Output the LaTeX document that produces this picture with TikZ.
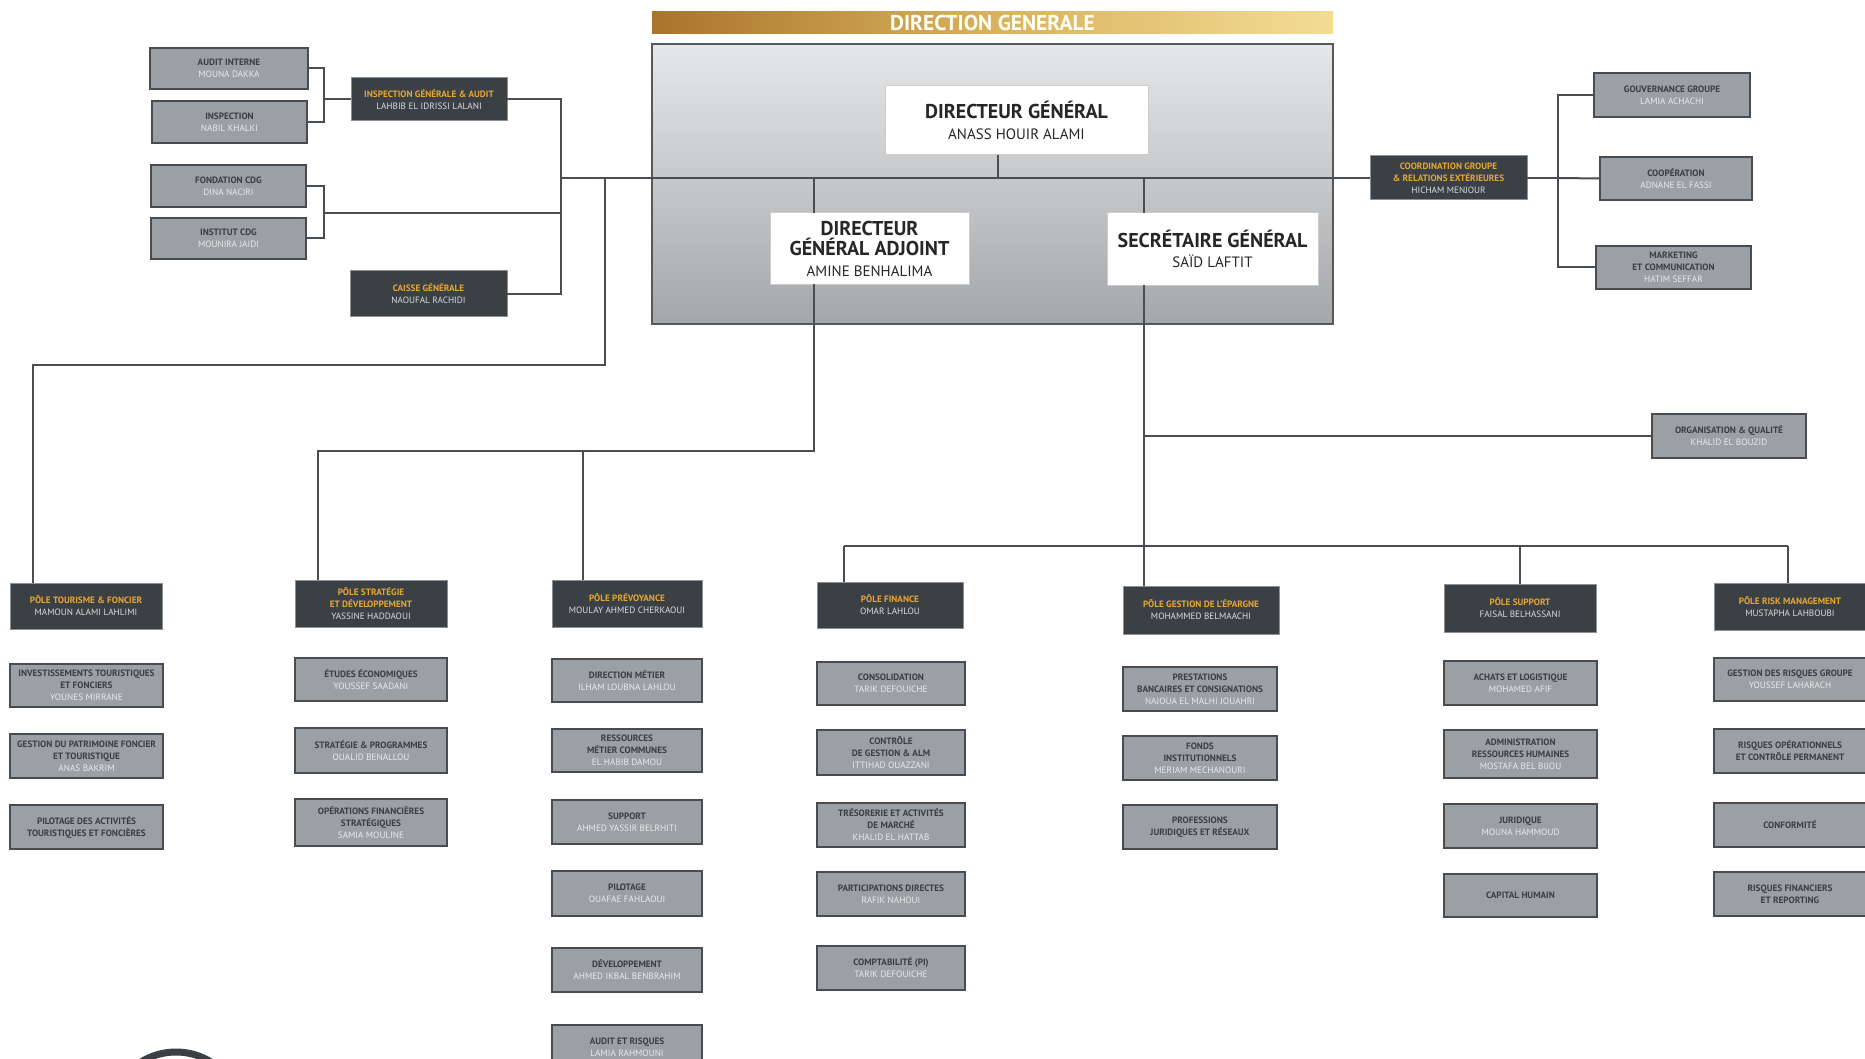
\documentclass[tikz,border=0pt]{standalone}
\usepackage{fontspec}
\setmainfont{PT Sans}
\usetikzlibrary{calc}
\definecolor{lfill}{HTML}{9BA0A5}
\definecolor{bord}{HTML}{484C50}
\definecolor{ltitle}{HTML}{3A3E42}
\definecolor{lname}{HTML}{E9EBED}
\definecolor{dfill}{HTML}{3A4043}
\definecolor{dedge}{HTML}{8C9194}
\definecolor{gold}{HTML}{E8A735}
\definecolor{dname}{HTML}{D9DDE0}
\definecolor{linec}{HTML}{4A4E52}
\definecolor{bangold1}{HTML}{A9742B}
\definecolor{bangold2}{HTML}{D8B25E}
\definecolor{bangold3}{HTML}{F4DC95}
\definecolor{frtop}{HTML}{E6E7E8}
\definecolor{frbot}{HTML}{A4A7AA}
\definecolor{frbord}{HTML}{55595C}
\newcommand{\nmL}[1]{{\mdseries\color{lname}#1}}
\newcommand{\nmD}[1]{{\mdseries\color{dname}#1}}
\newcommand{\nmW}[1]{{\fontsize{15}{20}\selectfont\mdseries #1}}
\newcommand{\bx}[7]{\node[#1, minimum width={(#5)-(#3)}, minimum height={(#6)-(#4)}] (#2) at ({((#3)+(#5))/2},{((#4)+(#6))/2}) {#7};}
\begin{document}
\begin{tikzpicture}[x=1pt,y=-1pt,
  lbox/.style={draw=bord, line width=2pt, fill=lfill, text=ltitle, font=\fontsize{9.2}{12}\selectfont\bfseries, align=center, inner sep=0pt, outer sep=0pt},
  dbox/.style={draw=dedge, line width=1pt, fill=dfill, text=gold, font=\fontsize{9.2}{12}\selectfont\bfseries, align=center, inner sep=0pt, outer sep=0pt},
  wbox/.style={draw=black!20, line width=1pt, fill=white, text=black!85, align=center, inner sep=0pt, outer sep=0pt, font=\fontsize{20}{20.5}\selectfont\bfseries},
  conn/.style={draw=linec, line width=2pt},
  thin/.style={draw=linec, line width=1.5pt}]
\useasboundingbox (0,0) rectangle (1865,1059);
\clip (0,0) rectangle (1865,1059);
\fill[white] (0,0) rectangle (1865,1059);

% ---------- Direction generale ----------
\node[minimum width=681, minimum height=22, inner sep=0pt, left color=bangold1, right color=bangold3, middle color=bangold2, text=white!95!yellow, font=\fontsize{21.5}{22}\selectfont\bfseries] (banner) at (992.5,23) {DIRECTION GENERALE};
\node[minimum width=681, minimum height=280, inner sep=0pt, top color=frtop, bottom color=frbot, draw=frbord, line width=2.5pt] (frame) at (992.5,184) {};

\bx{wbox}{dg}{885}{86}{1148}{155}{DIRECTEUR GÉNÉRAL\\\nmW{ANASS HOUIR ALAMI}}
\bx{wbox}{dga}{770}{213}{969}{284}{DIRECTEUR\\GÉNÉRAL ADJOINT\\\nmW{AMINE BENHALIMA}}
\bx{wbox}{sg}{1107}{213}{1318}{285}{SECRÉTAIRE GÉNÉRAL\\\nmW{SAÏD LAFTIT}}

% ---------- left side ----------
\bx{lbox}{ai}{150}{48}{308}{89}{AUDIT INTERNE\\\nmL{MOUNA DAKKA}}
\bx{lbox}{insp}{152}{101}{307}{143}{INSPECTION\\\nmL{NABIL KHALKI}}
\bx{dbox}{iga}{351}{78}{507}{121}{INSPECTION GÉNÉRALE \& AUDIT\\\nmD{LAHBIB EL IDRISSI LALANI}}
\bx{lbox}{fcdg}{151}{165}{306}{207}{FONDATION CDG\\\nmL{DINA NACIRI}}
\bx{lbox}{icdg}{151}{218}{306}{259}{INSTITUT CDG\\\nmL{MOUNIRA JAIDI}}
\bx{dbox}{caisse}{350}{271}{507}{316}{CAISSE GÉNÉRALE\\\nmD{NAOUFAL RACHIDI}}

% ---------- right side ----------
\bx{dbox}{coord}{1370}{156}{1527}{200}{COORDINATION GROUPE\\\& RELATIONS EXTÉRIEURES\\\nmD{HICHAM MENJOUR}}
\bx{lbox}{gouv}{1594}{73}{1750}{117}{GOUVERNANCE GROUPE\\\nmL{LAMIA ACHACHI}}
\bx{lbox}{coop}{1600}{157}{1752}{200}{COOPÉRATION\\\nmL{ADNANE EL FASSI}}
\bx{lbox}{mkt}{1596}{246}{1751}{289}{MARKETING\\ET COMMUNICATION\\\nmL{HATIM SEFFAR}}
\bx{lbox}{org}{1652}{414}{1806}{458}{ORGANISATION \& QUALITÉ\\\nmL{KHALID EL BOUZID}}

% ---------- poles ----------
\bx{dbox}{tour}{10}{583}{162}{629}{PÔLE TOURISME \& FONCIER\\\nmD{MAMOUN ALAMI LAHLIMI}}
\bx{dbox}{strat}{295}{580}{447}{627}{PÔLE STRATÉGIE\\ET DÉVELOPPEMENT\\\nmD{YASSINE HADDAOUI}}
\bx{dbox}{prev}{552}{580}{702}{627}{PÔLE PRÉVOYANCE\\\nmD{MOULAY AHMED CHERKAOUI}}
\bx{dbox}{fin}{817}{582}{963}{628}{PÔLE FINANCE\\\nmD{OMAR LAHLOU}}
\bx{dbox}{epar}{1123}{586}{1279}{634}{PÔLE GESTION DE L'ÉPARGNE\\\nmD{MOHAMMED BELMAACHI}}
\bx{dbox}{supp}{1444}{584}{1596}{632}{PÔLE SUPPORT\\\nmD{FAISAL BELHASSANI}}
\bx{dbox}{risk}{1714}{583}{1866}{630}{PÔLE RISK MANAGEMENT\\\nmD{MUSTAPHA LAHBOUBI}}

% column 1
\bx{lbox}{c1a}{10}{664}{163}{707}{INVESTISSEMENTS TOURISTIQUES\\ET FONCIERS\\\nmL{YOUNES MIRRANE}}
\bx{lbox}{c1b}{10}{734}{163}{778}{GESTION DU PATRIMOINE FONCIER\\ET TOURISTIQUE\\\nmL{ANAS BAKRIM}}
\bx{lbox}{c1c}{10}{805}{163}{849}{PILOTAGE DES ACTIVITÉS\\TOURISTIQUES ET FONCIÈRES}
% column 2
\bx{lbox}{c2a}{295}{658}{447}{701}{ÉTUDES ÉCONOMIQUES\\\nmL{YOUSSEF SAADANI}}
\bx{lbox}{c2b}{295}{728}{447}{773}{STRATÉGIE \& PROGRAMMES\\\nmL{OUALID BENALLOU}}
\bx{lbox}{c2c}{295}{799}{447}{846}{OPÉRATIONS FINANCIÈRES\\STRATÉGIQUES\\\nmL{SAMIA MOULINE}}
% column 3
\bx{lbox}{c3a}{552}{659}{702}{702}{DIRECTION MÉTIER\\\nmL{ILHAM LOUBNA LAHLOU}}
\bx{lbox}{c3b}{552}{729}{702}{772}{RESSOURCES\\MÉTIER COMMUNES\\\nmL{EL HABIB DAMOU}}
\bx{lbox}{c3c}{552}{800}{702}{844}{SUPPORT\\\nmL{AHMED YASSIR BELRHITI}}
\bx{lbox}{c3d}{552}{871}{702}{916}{PILOTAGE\\\nmL{OUAFAE FAHLAOUI}}
\bx{lbox}{c3e}{552}{948}{702}{992}{DÉVELOPPEMENT\\\nmL{AHMED IKBAL BENBRAHIM}}
\bx{lbox}{c3f}{552}{1025}{702}{1070}{AUDIT ET RISQUES\\\nmL{LAMIA RAHMOUNI}}
% column 4
\bx{lbox}{c4a}{817}{662}{965}{705}{CONSOLIDATION\\\nmL{TARIK DEFOUICHE}}
\bx{lbox}{c4b}{817}{730}{965}{775}{CONTRÔLE\\DE GESTION \& ALM\\\nmL{ITTIHAD OUAZZANI}}
\bx{lbox}{c4c}{817}{803}{965}{847}{TRÉSORERIE ET ACTIVITÉS\\DE MARCHÉ\\\nmL{KHALID EL HATTAB}}
\bx{lbox}{c4d}{817}{872}{965}{916}{PARTICIPATIONS DIRECTES\\\nmL{RAFIK NAHOUI}}
\bx{lbox}{c4e}{817}{946}{965}{990}{COMPTABILITÉ (PI)\\\nmL{TARIK DEFOUICHE}}
% column 5
\bx{lbox}{c5a}{1123}{667}{1277}{711}{PRESTATIONS\\BANCAIRES ET CONSIGNATIONS\\\nmL{NAJOUA EL MALHI JOUAHRI}}
\bx{lbox}{c5b}{1123}{736}{1277}{780}{FONDS\\INSTITUTIONNELS\\\nmL{MERIAM MECHANOURI}}
\bx{lbox}{c5c}{1123}{805}{1277}{849}{PROFESSIONS\\JURIDIQUES ET RÉSEAUX}
% column 6
\bx{lbox}{c6a}{1444}{661}{1597}{705}{ACHATS ET LOGISTIQUE\\\nmL{MOHAMED AFIF}}
\bx{lbox}{c6b}{1444}{730}{1597}{778}{ADMINISTRATION\\RESSOURCES HUMAINES\\\nmL{MOSTAFA BEL BIJOU}}
\bx{lbox}{c6c}{1444}{804}{1597}{848}{JURIDIQUE\\\nmL{MOUNA HAMMOUD}}
\bx{lbox}{c6d}{1444}{874}{1597}{917}{CAPITAL HUMAIN}
% column 7
\bx{lbox}{c7a}{1714}{658}{1866}{701}{GESTION DES RISQUES GROUPE\\\nmL{YOUSSEF LAHARACH}}
\bx{lbox}{c7b}{1714}{729}{1866}{773}{RISQUES OPÉRATIONNELS\\ET CONTRÔLE PERMANENT}
\bx{lbox}{c7c}{1714}{803}{1866}{847}{CONFORMITÉ}
\bx{lbox}{c7d}{1714}{872}{1866}{916}{RISQUES FINANCIERS\\ET REPORTING}

% ---------- connectors ----------
\coordinate (b1) at (324,99.5);
\coordinate (b2) at (324,213);
\coordinate (v1) at (561,178);
\coordinate (t1) at (605,178);
\coordinate (t3) at (33,365);
\coordinate (jdg) at (998,178);
\coordinate (jdga) at (814,178);
\coordinate (jdga2) at (814,451);
\coordinate (s2) at (318,451);
\coordinate (s3) at (583,451);
\coordinate (jsg) at (1144,178);
\coordinate (jsg2) at (1144,546);
\coordinate (f1) at (844,546);
\coordinate (f3) at (1520,546);
\coordinate (f4) at (1788,546);
\coordinate (r1) at (1558,178);

\draw[conn] (ai.east) -| (b1) |- (insp.east);
\draw[conn] (b1) -- (iga.west);
\draw[conn] (fcdg.east) -| (b2) |- (icdg.east);
\draw[conn] (b2) -- (b2 -| v1);
\draw[conn] (iga.east) -| (v1);
\draw[conn] (caisse.east) -| (v1);
\draw[conn] (v1) -- (coord.west);
\draw[thin] (t1) |- (t3) -- (t3 |- tour.north);
\draw[conn] (jdg |- dg.south) -- (jdg);
\draw[conn] (jdga) -- (jdga |- dga.north);
\draw[thin] (jdga |- dga.south) -- (jdga2) -- (s2) -- (s2 |- strat.north);
\draw[thin] (s3) -- (s3 |- prev.north);
\draw[conn] (jsg) -- (jsg |- sg.north);
\draw[thin] (jsg |- sg.south) -- (jsg2);
\draw[conn] (jsg |- org.west) -- (org.west);
\draw[conn] (f1) -- (f4);
\draw[thin] (f1) -- (f1 |- fin.north);
\draw[thin] (jsg2) -- (jsg2 |- epar.north);
\draw[thin] (f3) -- (f3 |- supp.north);
\draw[thin] (f4) -- (f4 |- risk.north);
\draw[conn] (coord.east) -- (r1);
\draw[conn] (gouv.west) -| (r1);
\draw[conn] (mkt.west) -| (r1);
\draw[conn] (r1) -- (coop.west);

% partial logo circle at bottom
\draw[line width=7pt, draw=dfill] (176,1118) circle (66);
\end{tikzpicture}
\end{document}
